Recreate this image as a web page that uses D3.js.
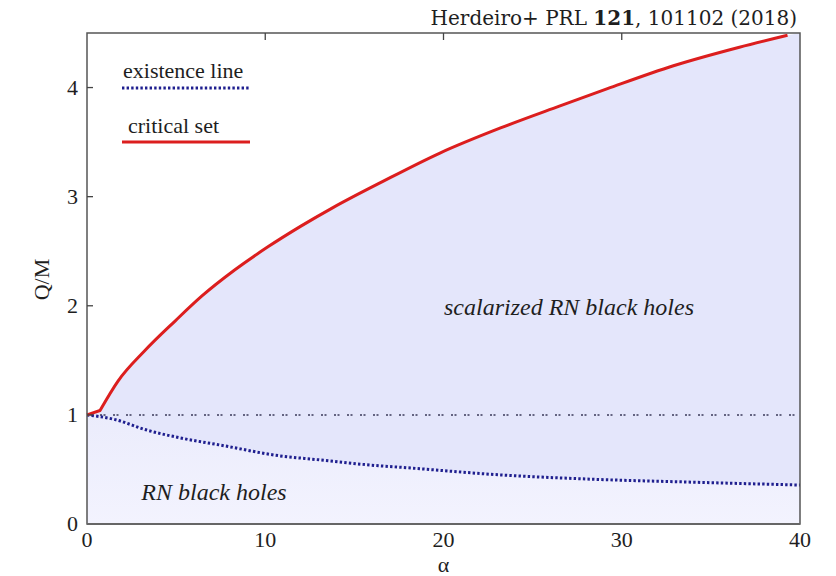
<!DOCTYPE html>
<html><head><meta charset="utf-8">
<script src="https://cdn.jsdelivr.net/npm/d3@7/dist/d3.min.js"></script>
<style>body{margin:0;background:#fff}svg{display:block}</style>
</head><body>
<script>
const critAlpha = [0, 0.73, 1.74, 3.25, 4.94, 6.45, 8.3, 10.15, 12.0, 13.8, 16.6, 19.8, 23.2, 26.5, 29.2, 32.9, 36.6, 39.3];
const critQ     = [1.0, 1.04, 1.31, 1.59, 1.86, 2.09, 2.33, 2.54, 2.73, 2.90, 3.14, 3.40, 3.63, 3.83, 3.99, 4.20, 4.37, 4.48];
const existAlpha = [0, 1.5, 3.37, 5.2, 7.6, 10.8, 12.9, 15.9, 18.0, 23.2, 28.4, 33.6, 40];
const existQ     = [1.0, 0.96, 0.86, 0.79, 0.72, 0.625, 0.59, 0.54, 0.515, 0.45, 0.41, 0.385, 0.357];
const xTicks = [0, 10, 20, 30, 40];
const yTicks = [0, 1, 2, 3, 4];
const rnLine = 1;

const FONT = "'Liberation Serif', 'Times New Roman', Times, serif";
const TFONT = "'DejaVu Serif', serif";
const W = 836, H = 576;
const m = {l: 87, r: 36, t: 33, b: 52};
const svg = d3.select("body").append("svg").attr("width", W).attr("height", H)
  .attr("font-family", FONT).style("font-family", FONT);
const x = d3.scaleLinear().domain([0, 40]).range([m.l, W - m.r]);
const y = d3.scaleLinear().domain([0, 4.5]).range([H - m.b, m.t]);

const crit = critAlpha.map((a, i) => [a, critQ[i]]);
const exist = existAlpha.map((a, i) => [a, existQ[i]]);

const smooth = d3.line().x(d => x(d[0])).y(d => y(d[1])).curve(d3.curveMonotoneX);
const critPath = `M${x(crit[0][0])},${y(crit[0][1])}L` + smooth(crit.slice(1)).slice(1);
const critArea = critPath + `L${x(40)},${y(4.5)}L${x(40)},${y(0)}L${x(0)},${y(0)}Z`;

svg.append("path").attr("d", critArea).attr("fill", "#e4e6fb");
const defs = svg.append("defs");
const g = defs.append("linearGradient").attr("id", "lg").attr("x1", 0).attr("y1", 0).attr("x2", 0).attr("y2", 1);
g.append("stop").attr("offset", "0%").attr("stop-color", "#ebecfc");
g.append("stop").attr("offset", "100%").attr("stop-color", "#f3f3fe");
const area = d3.area().x(d => x(d[0])).y0(y(0)).y1(d => y(d[1])).curve(d3.curveMonotoneX);
svg.append("path").datum(exist).attr("d", area).attr("fill", "url(#lg)");

svg.append("line").attr("x1", x(0)).attr("x2", x(40)).attr("y1", y(rnLine)).attr("y2", y(rnLine))
  .attr("stroke", "#3a3a5a").attr("stroke-width", 1.5).attr("stroke-dasharray", "2,1.5,2,7.5");

svg.append("path").datum(exist).attr("d", smooth).attr("fill", "none")
  .attr("stroke", "#1f1f8f").attr("stroke-width", 3).attr("stroke-dasharray", "2.4,2.2");
svg.append("path").attr("d", critPath).attr("fill", "none")
  .attr("stroke", "#dc1e1e").attr("stroke-width", 3).attr("stroke-linejoin", "round");

svg.append("rect").attr("x", x(0)).attr("y", y(4.5)).attr("width", x(40) - x(0)).attr("height", y(0) - y(4.5))
  .attr("fill", "none").attr("stroke", "#555").attr("stroke-width", 1.5);
svg.append("line").attr("x1", x(0)).attr("x2", x(40)).attr("y1", y(0)).attr("y2", y(0))
  .attr("stroke", "#666").attr("stroke-width", 2.2);

const ax = svg.append("g");
ax.selectAll(".yt").data(yTicks.slice(1)).join("line")
  .attr("x1", x(0)).attr("x2", x(0) + 6).attr("y1", d => y(d)).attr("y2", d => y(d))
  .attr("stroke", "#444").attr("stroke-width", 1.3);
ax.selectAll(".xt").data(xTicks.slice(1, -1)).join("line")
  .attr("x1", d => x(d)).attr("x2", d => x(d)).attr("y1", y(4.5)).attr("y2", y(4.5) + 7)
  .attr("stroke", "#444").attr("stroke-width", 1.3);

const txt = sel => sel.attr("font-family", FONT).attr("fill", "#1e1e1e");
ax.selectAll(".xl").data(xTicks).join("text").call(txt)
  .attr("x", d => x(d)).attr("y", 547).attr("text-anchor", "middle").attr("font-size", 22).text(d => d);
ax.selectAll(".yl").data(yTicks).join("text").call(txt)
  .attr("x", 78).attr("y", d => y(d) + 7).attr("text-anchor", "end").attr("font-size", 22).text(d => d);

svg.append("text").call(txt).attr("x", x(20)).attr("y", 572).attr("text-anchor", "middle").attr("font-size", 22).text("α");
svg.append("text").call(txt).attr("transform", `translate(49,${y(2.24)}) rotate(-90)`).attr("text-anchor", "middle")
  .attr("font-size", 22).text("Q/M");

const t = svg.append("text").attr("font-family", TFONT).attr("fill", "#1e1e1e")
  .attr("x", 797).attr("y", 25).attr("text-anchor", "end").attr("font-size", 20);
t.append("tspan").text("Herdeiro+ PRL ");
t.append("tspan").attr("font-weight", "bold").text("121");
t.append("tspan").text(", 101102 (2018)");

svg.append("text").call(txt).attr("x", 569).attr("y", 315).attr("text-anchor", "middle").attr("font-size", 24)
  .attr("font-style", "italic").text("scalarized RN black holes");
svg.append("text").call(txt).attr("x", 214).attr("y", 500).attr("text-anchor", "middle").attr("font-size", 24)
  .attr("font-style", "italic").text("RN black holes");

svg.append("text").call(txt).attr("x", 123).attr("y", 78).attr("font-size", 22).text("existence line");
svg.append("line").attr("x1", 122).attr("x2", 250).attr("y1", 88).attr("y2", 88)
  .attr("stroke", "#1f1f8f").attr("stroke-width", 3).attr("stroke-dasharray", "2.4,2.2");
svg.append("text").call(txt).attr("x", 128).attr("y", 133).attr("font-size", 22).text("critical set");
svg.append("line").attr("x1", 122).attr("x2", 250).attr("y1", 142).attr("y2", 142)
  .attr("stroke", "#dc1e1e").attr("stroke-width", 3);
</script>
</body></html>
